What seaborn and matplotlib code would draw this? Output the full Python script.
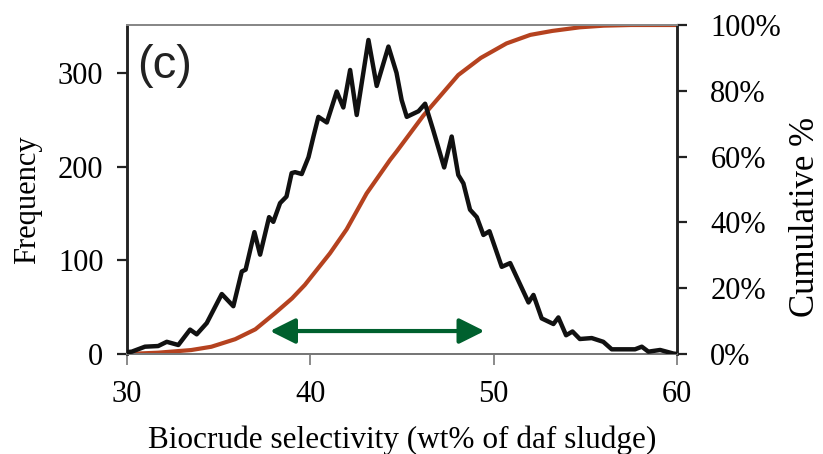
import numpy as np
import pandas as pd
import matplotlib
matplotlib.use("Agg")
import matplotlib.pyplot as plt
import seaborn as sns

# ---- data ----
freq_x = [30.0, 30.26, 30.98, 31.7, 32.17, 32.8, 33.44, 33.8, 34.35, 35.17, 35.8,
          36.26, 36.47, 36.95, 37.26, 37.75, 37.98, 38.35, 38.7, 38.98, 39.17,
          39.53, 39.9, 40.17, 40.44, 40.9, 41.44, 41.8, 42.17, 42.53, 43.17,
          43.62, 44.26, 44.7, 44.98, 45.26, 45.9, 46.26, 46.7, 47.3, 47.71,
          48.07, 48.35, 48.71, 49.08, 49.44, 49.77, 50.44, 50.9, 51.9, 52.17,
          52.62, 53.26, 53.53, 53.95, 54.3, 54.7, 55.35, 55.98, 56.44, 57.71,
          58.08, 58.44, 59.08, 59.8, 60.0]
freq_y = [2, 2.5, 7.8, 8.5, 13, 9.6, 26, 21, 33, 64, 51,
          88, 90, 130, 106, 146, 141, 161, 168, 193, 194,
          192, 210, 232, 253, 247, 280, 263, 303, 255, 335,
          286, 328, 300, 271, 253, 259, 267, 239, 199, 232,
          191, 182, 154, 146, 127, 131, 93, 97, 55, 63,
          38, 32, 39, 20, 24, 16, 17, 13, 5, 5,
          7.8, 2.5, 4.3, 0.5, 0]

cum_x = [30.0, 31.7, 33.5, 34.6, 35.9, 37.0, 38.07, 39.0, 39.7, 41.07, 41.98,
         43.07, 44.35, 44.7, 46.17, 48.07, 49.3, 50.7, 52.0, 53.2, 54.7, 56.0,
         57.5, 60.0]
cum_y = [0.0, 0.4, 1.2, 2.2, 4.5, 7.5, 12.4, 16.9, 21.0, 30.6, 37.9,
         48.8, 59.0, 61.5, 72.5, 84.8, 90.0, 94.4, 97.0, 98.2, 99.3, 99.8,
         100.0, 100.0]

x_ticks = [30, 40, 50, 60]
freq_ticks = [0, 100, 200, 300]
cum_ticks = [0, 20, 40, 60, 80, 100]
cum_tick_labels = ["0%", "20%", "40%", "60%", "80%", "100%"]
arrow_range = [37.8, 49.5]
arrow_y = 24.5
panel_label = "(c)"

freq_df = pd.DataFrame({"x": freq_x, "y": freq_y})
cum_df = pd.DataFrame({"x": cum_x, "y": cum_y})

# ---- style ----
sns.set_theme(style="ticks")
plt.rcParams["font.family"] = ["Liberation Serif", "DejaVu Serif"]
plt.rcParams["text.color"] = "black"
plt.rcParams["axes.labelcolor"] = "black"

fig = plt.figure(figsize=(8.23, 4.54), dpi=100)
ax = fig.add_axes([127 / 823, 1 - 354 / 454, 550 / 823, 329 / 454])
ax2 = ax.twinx()

sns.lineplot(data=cum_df, x="x", y="y", ax=ax2, color="#b5421f", lw=3.0,
             solid_joinstyle="round", solid_capstyle="round", zorder=2)
sns.lineplot(data=freq_df, x="x", y="y", ax=ax, color="#111111", lw=3.2,
             solid_joinstyle="round", solid_capstyle="round", zorder=3)

ax.set_zorder(ax2.get_zorder() + 1)
ax.patch.set_visible(False)

ax.set_xlim(30, 60)
ax.set_ylim(0, 351)
ax2.set_ylim(0, 100)

ax.set_xticks(x_ticks)
ax.set_yticks(freq_ticks)
ax2.set_yticks(cum_ticks)
ax2.set_yticklabels(cum_tick_labels)

ax.tick_params(axis="x", direction="out", length=8, width=1.2, colors="#777777",
               labelcolor="black", labelsize=22, pad=11)
ax.tick_params(axis="y", direction="out", length=7, width=1.6, colors="#222222",
               labelcolor="black", labelsize=22, pad=10)
ax2.tick_params(axis="y", direction="out", length=7, width=1.6, colors="#222222",
                labelcolor="black", labelsize=22, pad=17)

for a in (ax, ax2):
    a.spines["top"].set_color("#888888")
    a.spines["bottom"].set_color("#777777")
    a.spines["left"].set_color("#222222")
    a.spines["right"].set_color("#222222")
    a.spines["top"].set_linewidth(1.4)
    a.spines["bottom"].set_linewidth(1.4)
    a.spines["left"].set_linewidth(1.8)
    a.spines["right"].set_linewidth(1.8)

ax.set_xlabel("")
ax.set_ylabel("")
ax2.set_xlabel("")
ax2.set_ylabel("")

fig.text(402 / 823, 1 - 448 / 454, "Biocrude selectivity (wt% of daf sludge)",
         ha="center", va="baseline", fontsize=22.5, color="black")
fig.text(28 / 823, 1 - 200 / 454, "Frequency", rotation=90,
         ha="center", va="center", fontsize=22, color="black")
fig.text(806 / 823, 1 - 217 / 454, "Cumulative %", rotation=90,
         ha="center", va="center", fontsize=25, color="black")

ax.text(0.018, 0.875, panel_label, transform=ax.transAxes, ha="left", va="center",
        fontsize=34, family=["Liberation Sans", "DejaVu Sans"], color="#222222")

ax.annotate("", xy=(arrow_range[0], arrow_y), xytext=(arrow_range[1], arrow_y),
            arrowprops=dict(arrowstyle="<|-|>,head_length=0.9,head_width=0.45",
                            color="#00602e", lw=3, shrinkA=0, shrinkB=0,
                            mutation_scale=17))

fig.savefig("out.png", dpi=100)
